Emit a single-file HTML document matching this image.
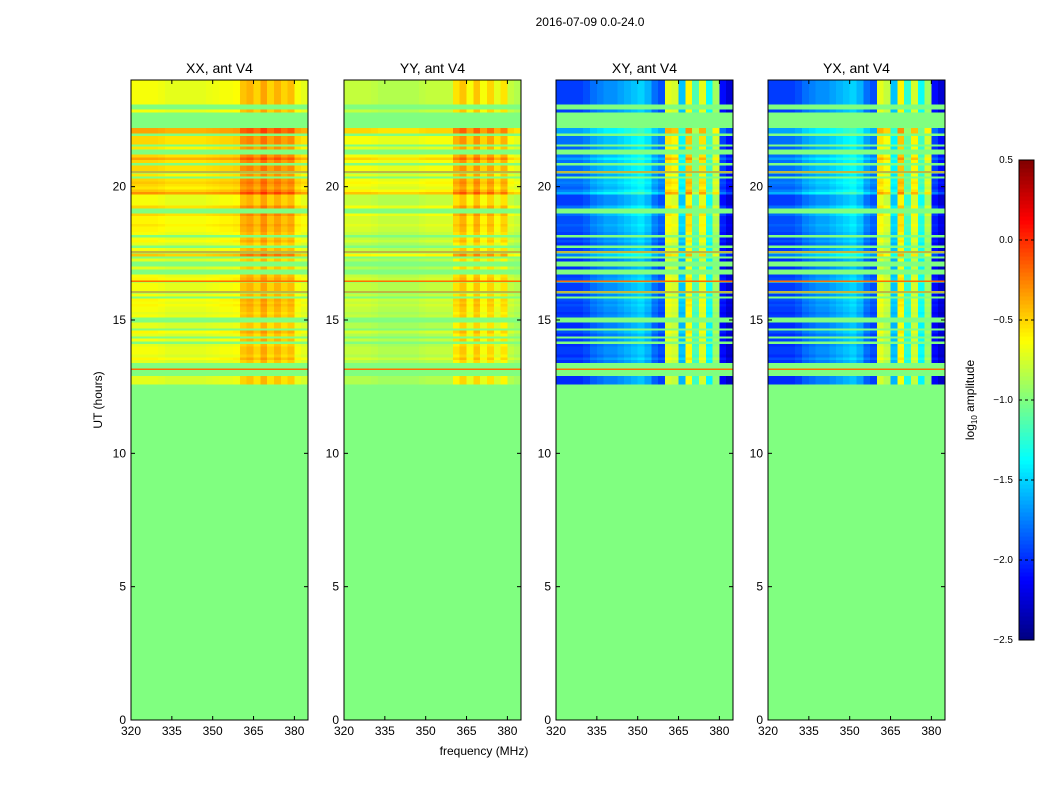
<!DOCTYPE html>
<html><head><meta charset="utf-8"><style>
body{margin:0;background:#fff;}
svg{display:block;font-family:"Liberation Sans",sans-serif;}
</style></head><body>
<svg id="fig" width="1050" height="800">
<rect width="1050" height="800" fill="#fff"/>
<text x="590" y="26" font-size="12" text-anchor="middle">2016-07-09 0.0-24.0</text>
<text x="484" y="755" font-size="12" text-anchor="middle">frequency (MHz)</text>
<text transform="translate(102,400) rotate(-90)" font-size="12" text-anchor="middle">UT (hours)</text>
<g id="panels"></g>
<g id="cbar"></g>
</svg>
<script>
// row levels (log10 amplitude) at 0.1 h resolution, from 24.0 h downward; null = flagged
const rowLevels = [-0.65,-0.65,-0.65,-0.65,-0.65,-0.65,-0.65,-0.65,-0.65,null,
null,-0.65,null,null,null,null,null,null,-0.35,-0.35,
null,-0.5,-0.5,-0.5,null,-0.55,null,null,-0.5,-0.35,
-0.5,null,-0.5,-0.5,-0.3,-0.55,null,-0.5,-0.45,-0.5,
-0.55,-0.45,-0.3,-0.65,-0.65,-0.65,-0.65,-0.5,null,null,
-0.5,-0.6,-0.6,-0.6,-0.55,-0.6,-0.6,-0.65,null,-0.65,
-0.6,-0.7,null,-0.65,-0.35,-0.45,null,-0.7,null,null,
-0.7,null,null,-0.65,-0.6,-0.3,-0.65,-0.65,-0.65,-0.35,
-0.65,null,-0.6,-0.65,-0.6,-0.65,-0.65,-0.7,-0.65,null,
null,-0.7,-0.7,null,-0.6,-0.7,null,-0.65,null,-0.7,
-0.65,-0.65,-0.65,-0.7,-0.6,-0.7,null,null,-0.35,null,
null,-0.7,-0.7,-0.7];
// rows with broadband RFI (uniform value across all channels)
const flatRows = [34, 64, 75, 79, 108];
const flatValue = -0.2;
// channel offsets, 2.5 MHz channels from 320 MHz
const colXX = [0,0,0,0,-0.02,-0.05,-0.05,-0.05,-0.05,-0.05,-0.05,-0.03,-0.02,0,0,0.02,0.2,0.25,0.15,0.3,0.15,0.25,0.15,0.22,0,-0.05];
const colYY = [-0.15,-0.15,-0.15,-0.15,-0.17,-0.2,-0.2,-0.2,-0.2,-0.2,-0.2,-0.17,-0.15,-0.15,-0.15,-0.15,0.1,0.2,0.0,0.2,0.0,0.15,-0.05,0.1,-0.15,-0.2];
const colXY = [-1.3,-1.3,-1.3,-1.3,-1.25,-1.15,-1.1,-1.05,-1.05,-1.0,-0.95,-0.9,-0.85,-0.95,-1.15,-1.25,-0.05,-0.1,-0.9,0.05,-0.5,-0.05,-0.7,-0.25,-1.45,-1.6];
const colYX = [-1.3,-1.3,-1.3,-1.3,-1.25,-1.15,-1.1,-1.05,-1.05,-1.0,-0.95,-0.9,-0.85,-0.95,-1.15,-1.25,-0.05,-0.15,-0.9,0.05,-0.6,-0.1,-0.7,-0.25,-1.45,-1.6];
const panelTitles = ["XX, ant V4","YY, ant V4","XY, ant V4","YX, ant V4"];
const xTicks = [320,335,350,365,380];
const yTicks = [0,5,10,15,20];
const cbarTicks = [0.5,0.0,-0.5,-1.0,-1.5,-2.0,-2.5];
const cbarLabels = ["0.5","0.0","\u22120.5","\u22121.0","\u22121.5","\u22122.0","\u22122.5"];

const NS='http://www.w3.org/2000/svg';
function mk(t,a,p){const e=document.createElementNS(NS,t);for(const k in a)e.setAttribute(k,a[k]);p.appendChild(e);return e;}
function clip(v){return Math.max(0,Math.min(1,v));}
function jet(v){const t=clip((v+2.5)/3);const r=clip(1.5-Math.abs(4*t-3)),g=clip(1.5-Math.abs(4*t-2)),b=clip(1.5-Math.abs(4*t-1));
 return 'rgb('+Math.round(r*255)+','+Math.round(g*255)+','+Math.round(b*255)+')';}
const panelX=[131,344,556,768], PW=177, PT=80, PB=720;
const fMin=320,fMax=385,hMax=24;
const xs=(f,x0)=>x0+(f-fMin)/(fMax-fMin)*PW;
const ys=h=>PB-(h/hMax)*(PB-PT);
const cols=[colXX,colYY,colXY,colYX];
const names=['xx','yy','xy','yx'];
const G=document.getElementById('panels');
for(let p=0;p<4;p++){
 const x0=panelX[p];
 const g=mk('g',{},G);
 
 
 const bg=mk('rect',{x:x0,y:PT,width:PW,height:PB-PT,fill:jet(-1.0)},g);
 
 
 const hm=mk('g',{'shape-rendering':'crispEdges'},g);
 
 
 rowLevels.forEach((lv,i)=>{
  const flat=flatRows.includes(i);
  if(lv===null&&!flat)return;
  const hTop=24-0.1*i, y1=ys(hTop), y2=ys(hTop-0.1);
  cols[p].forEach((off,c)=>{
   const v=flat?flatValue:lv+off;
   const xa=xs(fMin+2.5*c,x0), xb=xs(fMin+2.5*(c+1),x0);
   const hh=flat?1.2:(y2-y1+0.3);
   const r=mk('rect',{x:xa.toFixed(2),y:(flat?y1+0.7:y1).toFixed(2),width:(xb-xa+0.3).toFixed(2),height:hh.toFixed(2),fill:jet(v)},hm);
   
   
  });
 });
 const fr=mk('rect',{x:x0,y:PT,width:PW,height:PB-PT,fill:'none',stroke:'#000','stroke-width':1},g);
 
 
 const tt=mk('text',{x:x0+PW/2,y:PT-7,'font-size':14,'text-anchor':'middle'},g);
 tt.textContent=panelTitles[p];
 
 
 xTicks.forEach(f=>{const x=xs(f,x0);
  mk('line',{x1:x,x2:x,y1:PB,y2:PB-4,stroke:'#000'},g);
  mk('line',{x1:x,x2:x,y1:PT,y2:PT+4,stroke:'#000'},g);
  const t=mk('text',{x:x,y:PB+15,'font-size':12,'text-anchor':'middle'},g);
  t.textContent=f;
  
  });
 yTicks.forEach(h=>{const y=ys(h);
  mk('line',{x1:x0,x2:x0+4,y1:y,y2:y,stroke:'#000'},g);
  mk('line',{x1:x0+PW,x2:x0+PW-4,y1:y,y2:y,stroke:'#000'},g);
  const t=mk('text',{x:x0-5,y:y+4,'font-size':12,'text-anchor':'end'},g);
  t.textContent=h;
  
  });
}
// colorbar
const C=document.getElementById('cbar');


const cx=1019,cw=15,cT=160,cB=640,vMin=-2.5,vMax=0.5;
const cy=v=>cB-(v-vMin)/(vMax-vMin)*(cB-cT);
for(let k=0;k<120;k++){const v1=vMin+(vMax-vMin)*k/120,v2=vMin+(vMax-vMin)*(k+1)/120;
 mk('rect',{x:cx,y:cy(v2),width:cw,height:cy(v1)-cy(v2)+0.5,fill:jet((v1+v2)/2),'shape-rendering':'crispEdges'},C);}
mk('rect',{x:cx,y:cT,width:cw,height:cB-cT,fill:'none',stroke:'#000'},C);
cbarTicks.forEach((v,k)=>{const y=cy(v);
 mk('line',{x1:cx,x2:cx+cw,y1:y,y2:y,stroke:'#000','stroke-dasharray':'3,3'},C);
 const t=mk('text',{x:cx-6,y:y+3,'font-size':10,'text-anchor':'end'},C);
 t.textContent=cbarLabels[k];
 
 });
const cl=mk('text',{transform:'translate(974,400) rotate(-90)','font-size':12,'text-anchor':'middle'},C);
cl.innerHTML='log<tspan font-size="8" dy="3">10</tspan><tspan dy="-3"> amplitude</tspan>';


</script>
</body></html>
